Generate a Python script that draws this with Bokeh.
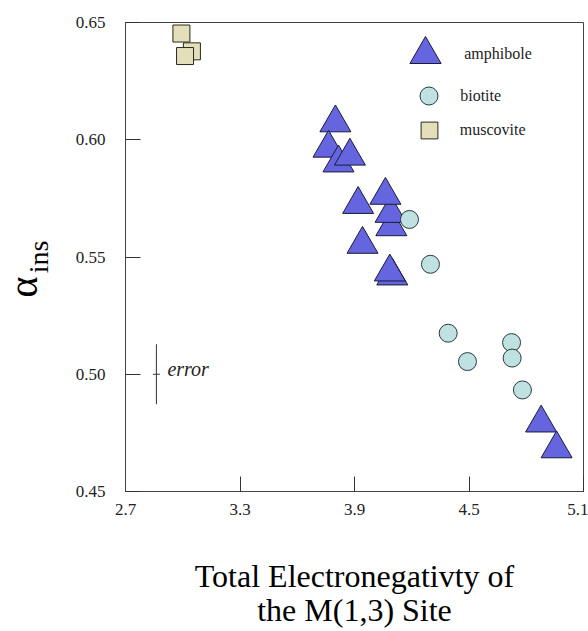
import math
from bokeh.plotting import figure
from bokeh.models import Range1d, FixedTicker, PrintfTickFormatter, Legend, LegendItem, Label, Title
from bokeh.embed import file_html
from bokeh.resources import INLINE

# ---- data ----
amph_x = [3.800, 3.764, 3.816, 3.876, 3.919, 4.093, 4.089, 4.062, 3.942, 4.098, 4.085, 4.878, 4.959]
amph_y = [0.6072, 0.5964, 0.5901, 0.5930, 0.5724, 0.5629, 0.5686, 0.5763, 0.5554, 0.5419, 0.5436, 0.4792, 0.4682]
bio_x = [4.188, 4.298, 4.391, 4.492, 4.723, 4.726, 4.780]
bio_y = [0.5660, 0.5469, 0.5175, 0.5054, 0.5135, 0.5069, 0.4933]
musc_x = [2.993, 3.048, 3.012]
musc_y = [0.6453, 0.6377, 0.6357]
x_ticks = [2.7, 3.3, 3.9, 4.5, 5.1]
y_ticks = [0.45, 0.50, 0.55, 0.60, 0.65]
error_x = 2.862
error_y = 0.500
error_half = 0.0128
series_names = ["amphibole", "biotite", "muscovite"]
x_title = "Total Electronegativty of\nthe M(1,3) Site"
y_title_main = "α"
y_title_sub = "ins"

FONT = "Liberation Serif"
INK = "#222222"

p = figure(width=588, height=631, x_range=Range1d(2.7, 5.1), y_range=Range1d(0.45, 0.65),
           output_backend="svg", toolbar_location=None,
           min_border_left=125, min_border_right=5, min_border_top=22, min_border_bottom=139)
p.background_fill_color = "white"
p.border_fill_color = "white"
p.outline_line_color = "#444444"
p.outline_line_width = 1
p.xgrid.visible = False
p.ygrid.visible = False

for ax in (p.xaxis[0], p.yaxis[0]):
    ax.axis_line_color = "#444444"
    ax.major_tick_line_color = "#333333"
    ax.major_tick_in = 15
    ax.major_tick_out = 0
    ax.minor_tick_line_color = None
    ax.major_label_text_font = FONT
    ax.major_label_text_font_size = "17px"
    ax.major_label_text_color = INK

p.xaxis.ticker = FixedTicker(ticks=x_ticks)
p.yaxis.ticker = FixedTicker(ticks=y_ticks)
p.xaxis.formatter = PrintfTickFormatter(format="%.1f")
p.yaxis.formatter = PrintfTickFormatter(format="%.2f")
p.xaxis.major_label_standoff = 12
p.yaxis.major_label_standoff = 20

p.xaxis.axis_label = x_title
p.xaxis.axis_label_text_font = FONT
p.xaxis.axis_label_text_font_size = "32px"
p.xaxis.axis_label_text_font_style = "normal"
p.xaxis.axis_label_text_color = "black"
p.xaxis.axis_label_text_line_height = 0.97
p.xaxis.axis_label_standoff = 40

# y title: subscript "ins" as the axis label, the alpha as a side title just outside it
p.yaxis.axis_label = y_title_sub
p.yaxis.axis_label_text_font = FONT
p.yaxis.axis_label_text_font_size = "28px"
p.yaxis.axis_label_text_font_style = "normal"
p.yaxis.axis_label_text_color = "black"
p.yaxis.axis_label_standoff = 19

alpha_title = Title(text=y_title_main, align="left", vertical_align="bottom", offset=194, standoff=-52,
                    text_font=FONT, text_font_size="40px", text_font_style="normal",
                    text_color="black")
p.add_layout(alpha_title, "left")

# ---- error bar ----
p.segment(x0=[error_x], y0=[error_y - error_half], x1=[error_x], y1=[error_y + error_half],
          line_color="#333333", line_width=1)
p.scatter(x=[error_x], y=[error_y], marker="dash", size=7, line_color="#333333", line_width=1)
p.add_layout(Label(x=error_x, y=error_y, x_offset=11, y_offset=5, text="error",
                   text_font=FONT, text_font_size="20px", text_font_style="italic",
                   text_color=INK, text_baseline="alphabetic", text_align="left"))

# ---- series ----
r_amph = p.scatter(x=amph_x, y=amph_y, marker="triangle", size=31,
                   fill_color="#6565df", line_color="#1a1a3a", line_width=1)
r_bio = p.scatter(x=bio_x, y=bio_y, marker="circle", size=18,
                  fill_color="#bfe1e1", line_color="#2a3a3a", line_width=1)
r_musc = p.scatter(x=musc_x, y=musc_y, marker="square", size=17,
                   fill_color="#e3dfbb", line_color="#2a2a1a", line_width=1)

# ---- legend (one per series so each key keeps its marker size) ----
legend_layout = [
    (r_amph, series_names[0], 31, (261.25, 398.5), 0),
    (r_bio, series_names[1], 18, (281.2, 373.0), 9),
    (r_musc, series_names[2], 17, (282.75, 340.5), 10),
]
for rend, name, msize, loc, standoff in legend_layout:
    g = msize / 0.4
    lg = Legend(items=[LegendItem(label=name, renderers=[rend])], location=loc,
                glyph_width=int(round(g)), glyph_height=int(round(g)), label_standoff=standoff,
                padding=0, margin=0, spacing=0,
                border_line_alpha=0, background_fill_alpha=0,
                label_text_font=FONT, label_text_font_size="16px", label_text_color=INK)
    p.add_layout(lg)

open("out.html", "w").write(file_html(p, INLINE))
